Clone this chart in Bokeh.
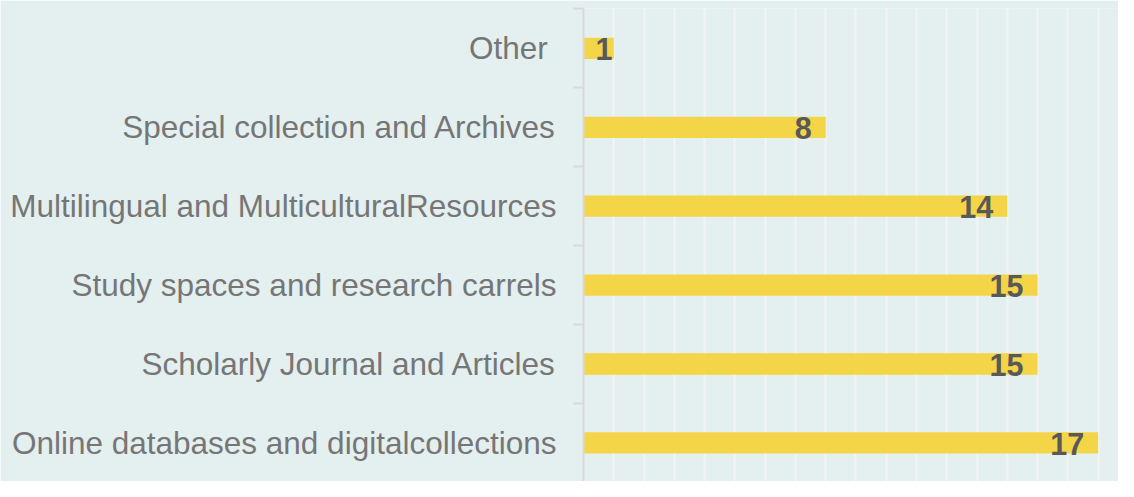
from bokeh.plotting import figure
from bokeh.models import Range1d, FixedTicker, SingleIntervalTicker, ColumnDataSource
from bokeh.core.properties import value
from bokeh.embed import file_html
from bokeh.resources import INLINE

categories = [
    "Other ",
    "Special collection and Archives",
    "Multilingual and MulticulturalResources",
    "Study spaces and research carrels",
    "Scholarly Journal and Articles",
    "Online databases and digitalcollections",
]
counts = [1, 8, 14, 15, 15, 17]

BG = "#e4efef"
BAR = "#f3d547"
W, H = 1118, 481
LEFT = 583
TOP = 8
PXU = 30.27
X_END = (W - LEFT) / PXU
PXY = 78.9
Y_TOP = len(categories) - 1 + 0.506
Y_BOT = Y_TOP - (H - TOP) / PXY

n = len(categories)
ys = [n - 1 - i for i in range(n)]
lx = [max(v - 14 / PXU, 29 / PXU) for v in counts]

src = ColumnDataSource(dict(y=ys, v=counts, lx=lx, lab=[str(v) for v in counts]))

p = figure(width=W, height=H, output_backend="svg", toolbar_location=None,
           x_range=Range1d(0, X_END), y_range=Range1d(Y_BOT, Y_TOP),
           min_border_left=LEFT, min_border_right=0, min_border_top=TOP, min_border_bottom=0,
           background_fill_color=BG, border_fill_color=BG)
p.outline_line_color = None

p.hbar(y="y", right="v", left=0, height=0.27, source=src, fill_color=BAR, line_color=None)
p.text(x="lx", y="y", text="lab", source=src, text_align="right", text_baseline="middle",
       text_font=value("Liberation Sans"), text_font_style="bold", text_font_size="30.5px",
       text_color="#595959", y_offset=1)

p.xaxis.visible = False
p.ygrid.visible = False
p.xgrid.ticker = SingleIntervalTicker(interval=1)
p.xgrid.grid_line_color = "#f3f5f5"
p.xgrid.grid_line_width = 2

ya = p.yaxis[0]
ya.ticker = FixedTicker(ticks=ys, minor_ticks=[k + 0.5 for k in range(-1, n)])
ya.major_label_overrides = {y: c for y, c in zip(ys, categories)}
ya.major_tick_out = 0
ya.major_tick_in = 0
ya.minor_tick_out = 10
ya.minor_tick_in = 0
ya.minor_tick_line_color = "#d9d9d9"
ya.minor_tick_line_width = 2
ya.axis_line_color = "#d9d9d9"
ya.axis_line_width = 2
ya.major_label_standoff = 17
ya.major_label_text_font = "Liberation Sans"
ya.major_label_text_font_size = "31.5px"
ya.major_label_text_color = "#767676"

open("out.html", "w").write(file_html(p, INLINE))
